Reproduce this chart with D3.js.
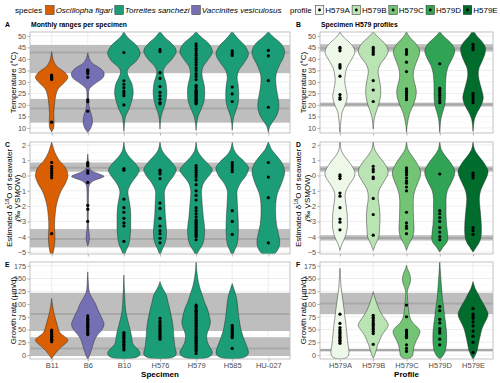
<!DOCTYPE html>
<html>
<head>
<meta charset="utf-8">
<script src="https://cdn.jsdelivr.net/npm/d3@7"></script>
<style>
  body { margin: 0; background: #fff; }
  text { font-family: "Liberation Sans", Arial, sans-serif; }
</style>
</head>
<body>
<div id="chart"></div>
<script>
const specimens = ["B11", "B6", "B10", "H576", "H579", "H585", "HU-027"];
const specimenColors = ["#d95f02", "#7570b3", "#1b9e77", "#1b9e77", "#1b9e77", "#1b9e77", "#1b9e77"];
const profiles = ["H579A", "H579B", "H579C", "H579D", "H579E"];
const profileColors = ["#edf8e9", "#bae4b3", "#74c476", "#31a354", "#006d2c"];
const speciesNames = ["Oscillopha figari", "Torreites sanchezi", "Vaccinites vesiculosus"];
const speciesColors = ["#d95f02", "#1b9e77", "#7570b3"];

const tempTicks = [10, 15, 20, 25, 30, 35, 40, 45, 50];
const d18oTicks = [-5, -4, -3, -2, -1, 0, 1, 2];
const growthTicks = [0, 25, 50, 75, 100, 125, 150, 175];

// dots: temperature per specimen
const tempSpecimenPts = [
  [33, 32.6, 32.2, 31.8, 31.4, 31, 12.5],
  [35.2, 34.8, 34.3, 33.5, 32, 22.2, 21.4, 17.3],
  [42.8, 30.5, 29, 27.5, 26, 25, 24, 20],
  [44, 43.2, 34, 31.5, 28, 25.5, 24, 22.5, 21, 20.5],
  [46.5, 45.6, 44.5, 43.6, 42.4, 41.5, 40.4, 39.6, 38.5, 37.4, 36.1, 35, 33.6, 32.4, 31, 28.5, 27.6, 26.6, 26, 25.4, 25, 24.4, 24, 23.4, 23, 22.5, 22, 21.4, 21, 20.5],
  [43.5, 42.5, 41.5, 27.8, 24.8, 21.5],
  [43.7, 41.3, 30.6, 19]
];
// violin outlines: [value, relative half width]
const tempSpecimenViolins = [
  [[8.3,0],[10,0.12],[12.5,0.15],[16,0.13],[20,0.17],[24,0.25],[27,0.4],[29.5,0.75],[32,1.0],[34.5,0.75],[36.5,0.35],[39,0.12],[41,0.05],[43.2,0]],
  [[8,0],[9.5,0.15],[12,0.28],[15,0.25],[18,0.12],[21,0.06],[24,0.05],[27,0.1],[29.5,0.5],[32,0.95],[34,1.0],[36,0.75],[38,0.3],[40,0.1],[42.6,0]],
  [[8.5,0],[12,0.04],[15,0.1],[18,0.3],[21,0.45],[25,0.57],[29,0.5],[32,0.3],[34.5,0.2],[36.5,0.35],[39,0.75],[42.5,1.0],[46,0.75],[48.5,0.35],[50.5,0.1],[52,0]],
  [[9.5,0],[13,0.03],[16,0.1],[19,0.25],[22.5,0.38],[26,0.42],[30,0.35],[33,0.22],[35,0.2],[37,0.35],[40,0.75],[43.5,1.0],[46.5,0.75],[49,0.35],[51,0.1],[52.5,0]],
  [[9,0],[12,0.04],[15,0.12],[18,0.3],[21.5,0.48],[25,0.53],[28.5,0.5],[31.5,0.4],[34,0.35],[36.5,0.42],[39.5,0.72],[43,1.0],[46.5,0.8],[49,0.4],[51,0.1],[52.5,0]],
  [[9,0],[12,0.03],[15,0.1],[18,0.25],[21,0.37],[25,0.4],[29,0.36],[32,0.3],[35,0.4],[38,0.7],[42,1.0],[45.5,0.8],[48.5,0.4],[51,0.1],[52.5,0]],
  [[8,0],[10.5,0.08],[13,0.3],[16,0.55],[19.5,0.65],[23,0.6],[27,0.5],[31,0.45],[34,0.5],[37.5,0.7],[41,0.95],[43.5,1.0],[46.5,0.8],[49,0.4],[51,0.1],[52.5,0]]
];
// [low, high, mean] of the grey reference ranges
const tempSpecimenBands = [[33.8, 46.1, 42.8], [12.3, 22.6, 18.5]];

const tempProfilePts = [
  [45, 44.5, 43.5, 37.5, 36.7, 36, 32.5, 24.5, 23.2, 22.5],
  [45, 44.3, 43.5, 42.8, 42, 30.6, 26.5, 21.5],
  [44, 43, 42, 38.6, 34.5, 27, 26, 25, 24, 23, 22.3],
  [37.9, 27.3, 26.3, 25.2, 24.2, 23.2, 22, 21],
  [46.3, 45, 44, 25, 24, 23, 22, 21]
];
const tempProfileViolins = [
  [[8,0],[11,0.03],[14,0.08],[17,0.15],[20,0.35],[23.5,0.48],[27,0.4],[30,0.32],[33,0.35],[36,0.45],[39,0.7],[43,1.0],[46,0.8],[48.5,0.4],[50.5,0.1],[52,0]],
  [[9.5,0],[12,0.03],[15,0.1],[18,0.25],[21.5,0.42],[25,0.5],[28.5,0.48],[32,0.38],[35,0.33],[38,0.5],[41,0.85],[43.5,1.0],[46.5,0.8],[49,0.4],[51,0.1],[52.5,0]],
  [[8,0],[11,0.04],[14,0.12],[17,0.25],[20,0.45],[23.5,0.62],[26.5,0.65],[30,0.52],[33,0.45],[36,0.52],[39.5,0.72],[43,0.88],[46,0.7],[48.5,0.35],[50.5,0.1],[52,0]],
  [[8,0],[11,0.03],[14,0.08],[17,0.2],[20,0.33],[23.5,0.38],[27,0.38],[31,0.4],[34,0.45],[37,0.58],[40,0.82],[43.5,1.0],[46.5,0.8],[49,0.4],[51,0.1],[52.5,0]],
  [[8.5,0],[11,0.03],[14,0.1],[17,0.3],[20,0.55],[23,0.68],[26,0.6],[29.5,0.45],[33,0.35],[36,0.4],[39,0.6],[42.5,0.8],[45,0.82],[47.5,0.6],[50,0.25],[52.5,0]]
];
const tempProfileBands = [[43.2, 46.4, 44.6], [19.3, 21, 20.2]];

const d18oSpecimenPts = [
  [0.85, 0.6, 0.45, 0.3, 0.15, 0, -0.15, -3.8],
  [0.85, 0.75, 0.65, 0.3, 0.15, -0.45, -1.95, -2.2, -3.0],
  [0.45, 0.35, -1.55, -2.1, -2.4, -2.8, -3.1, -3.3, -4.3],
  [0.35, 0.25, 0.1, -0.2, -1.8, -2.15, -2.8, -3.3, -3.6, -3.8, -4.1, -4.4],
  [0.65, 0.5, 0.35, 0.2, 0.05, -0.1, -0.3, -0.6, -1.0, -1.3, -1.6, -2.1, -2.3, -2.5, -2.7, -2.9, -3.0, -3.1, -3.2, -3.3, -3.4, -3.5, -3.6, -3.7, -3.8, -3.9, -4.0, -4.2],
  [0.85, 0.7, 0.55, 0.4, 0.25, -2.3, -3.0, -3.85],
  [0.85, -0.1, -1.45, -4.4]
];
const d18oSpecimenViolins = [
  [[-5.3,0],[-5,0.1],[-4.5,0.18],[-4,0.2],[-3.5,0.18],[-3,0.18],[-2.5,0.22],[-2,0.28],[-1.5,0.4],[-1,0.58],[-0.5,0.85],[0,1.0],[0.5,0.85],[1,0.46],[1.5,0.2],[2.2,0]],
  [[-4.6,0],[-4.3,0.08],[-4,0.1],[-3.6,0.06],[-3,0.03],[-2,0.04],[-1,0.05],[-0.6,0.1],[-0.35,0.35],[-0.15,0.85],[-0.05,1.0],[0.1,0.7],[0.3,0.25],[0.5,0.08],[0.8,0.05],[1.4,0]],
  [[-5.3,0],[-5,0.1],[-4.5,0.3],[-4,0.38],[-3.5,0.42],[-3,0.42],[-2.5,0.42],[-2,0.38],[-1.5,0.3],[-1,0.25],[-0.5,0.45],[0,0.8],[0.35,0.95],[0.8,0.7],[1.2,0.35],[1.6,0.1],[2.2,0]],
  [[-5.2,0],[-4.8,0.15],[-4.3,0.35],[-3.7,0.4],[-3,0.36],[-2.5,0.32],[-2,0.3],[-1.5,0.28],[-1,0.28],[-0.5,0.5],[0,0.85],[0.4,1.0],[0.9,0.7],[1.3,0.35],[1.7,0.1],[2.2,0]],
  [[-5.3,0],[-5,0.12],[-4.5,0.4],[-4,0.5],[-3.4,0.52],[-2.8,0.45],[-2.2,0.4],[-1.5,0.35],[-1,0.33],[-0.5,0.45],[0,0.8],[0.35,1.0],[0.8,0.7],[1.2,0.35],[1.6,0.1],[2.2,0]],
  [[-5.3,0],[-5,0.1],[-4.5,0.3],[-4,0.36],[-3.5,0.38],[-3,0.37],[-2.5,0.35],[-2,0.32],[-1.5,0.3],[-1,0.3],[-0.5,0.5],[0,0.85],[0.5,1.0],[0.9,0.75],[1.3,0.35],[1.7,0.1],[2.2,0]],
  [[-5.4,0],[-5.1,0.4],[-4.7,0.65],[-4.3,0.7],[-3.8,0.62],[-3.2,0.5],[-2.5,0.45],[-1.8,0.46],[-1.2,0.55],[-0.6,0.78],[0,0.97],[0.3,1.0],[0.8,0.85],[1.3,0.5],[1.7,0.2],[2.2,0]]
];
const d18oSpecimenBands = [[0.25, 0.85, 0.5], [-4.7, -3.5, -4.15]];

const d18oProfilePts = [
  [0.05, -0.05, -0.2, -1.15, -1.35, -2.1, -2.85, -3.05, -3.55],
  [0.6, 0.4, 0.25, -0.1, -0.2, -1.5, -2.55, -3.9],
  [0.5, 0.35, 0.2, 0.05, -0.15, -0.35, -0.5, -0.75, -1.0, -2.4, -3.1, -3.3, -3.45, -3.8],
  [0.1, -2.3, -2.5, -2.75, -3.0, -3.4, -3.7, -4.0, -4.2],
  [0.15, 0, -0.15, -3.4, -3.6, -3.85]
];
const d18oProfileViolins = [
  [[-4.9,0],[-4.5,0.12],[-4,0.35],[-3.5,0.48],[-3,0.5],[-2.5,0.48],[-2,0.42],[-1.5,0.35],[-1.1,0.37],[-0.6,0.62],[-0.1,0.95],[0.2,1.0],[0.7,0.75],[1.2,0.35],[1.6,0.1],[2.2,0]],
  [[-4.9,0],[-4.5,0.15],[-4,0.38],[-3.5,0.42],[-3,0.45],[-2.5,0.45],[-2,0.4],[-1.5,0.33],[-1,0.38],[-0.5,0.65],[0,0.95],[0.3,1.0],[0.8,0.75],[1.3,0.35],[1.7,0.1],[2.2,0]],
  [[-4.9,0],[-4.5,0.15],[-4,0.42],[-3.5,0.5],[-3,0.48],[-2.5,0.46],[-2,0.45],[-1.5,0.46],[-1,0.55],[-0.5,0.75],[0,0.93],[0.3,0.93],[0.8,0.7],[1.3,0.35],[1.7,0.1],[2.2,0]],
  [[-5,0],[-4.7,0.2],[-4.3,0.5],[-3.8,0.52],[-3.2,0.45],[-2.6,0.42],[-2,0.42],[-1.5,0.42],[-1,0.5],[-0.5,0.75],[0,0.97],[0.3,1.0],[0.8,0.75],[1.3,0.35],[1.7,0.1],[2.2,0]],
  [[-5,0],[-4.7,0.2],[-4.3,0.45],[-3.8,0.55],[-3.2,0.55],[-2.5,0.5],[-2,0.45],[-1.5,0.42],[-1,0.5],[-0.5,0.72],[0,0.95],[0.3,1.0],[0.8,0.75],[1.3,0.35],[1.7,0.1],[2.2,0]]
];
const d18oProfileBands = [[0.25, 0.6, 0.42], [-4.25, -3.9, -4.08]];

const growthSpecimenPts = [
  [49, 46, 43, 40, 37, 34, 31, 29, 26],
  [77, 73, 70, 67, 64, 61, 58, 56, 54, 51, 48, 45, 42, 40],
  [44, 41, 38, 35, 32, 28, 25, 21, 18, 14, 10],
  [72, 66, 62, 58, 55, 52, 49, 46, 43, 40, 37, 34, 31],
  [98, 95, 92, 88, 86, 83, 80, 77, 74, 71, 68, 65, 62, 59, 56, 53, 50, 47, 44, 41, 38, 35, 32, 29, 26, 23, 20, 17, 14, 11, 8, 3],
  [58, 55, 52, 49, 46, 43, 40, 37, 34, 13],
  []
];
const growthSpecimenViolins = [
  [[-8,0],[0,0.15],[8,0.35],[16,0.6],[24,0.9],[30,1.0],[36,0.8],[42,0.55],[50,0.42],[58,0.35],[66,0.28],[75,0.2],[85,0.12],[95,0.07],[103,0.03],[111,0]],
  [[-9,0],[0,0.12],[10,0.22],[20,0.32],[30,0.42],[40,0.62],[50,0.88],[60,1.0],[70,0.9],[80,0.75],[90,0.6],[100,0.48],[110,0.3],[120,0.13],[130,0.06],[145,0.03],[163,0]],
  [[-8,0],[-6,0.6],[-2,0.92],[4,1.0],[10,0.9],[16,0.7],[22,0.55],[30,0.5],[40,0.45],[50,0.38],[60,0.3],[75,0.18],[90,0.1],[110,0.06],[130,0.03],[157,0]],
  [[-8,0],[-5,0.75],[0,0.98],[6,1.0],[15,0.92],[25,0.88],[35,0.85],[50,0.82],[62,0.78],[75,0.7],[90,0.6],[105,0.48],[118,0.38],[130,0.18],[138,0.06],[144,0]],
  [[-8,0],[-5,0.7],[0,0.95],[6,1.0],[15,0.85],[25,0.7],[35,0.65],[45,0.7],[55,0.82],[65,0.88],[75,0.82],[90,0.7],[105,0.5],[120,0.35],[135,0.2],[150,0.1],[165,0.04],[183,0]],
  [[-8,0],[-5,0.7],[0,0.95],[6,1.0],[15,0.92],[25,0.8],[35,0.68],[45,0.58],[55,0.5],[65,0.45],[75,0.4],[90,0.35],[105,0.3],[118,0.22],[130,0.1],[140,0]],
  null
];
const growthSpecimenBands = [[47, 122, 80.5], [-2, 35, 13]];

const growthProfilePts = [
  [80, 62, 54, 50, 47, 44, 41, 38, 35, 32, 29, 26, 23],
  [78, 74, 71, 67, 63, 60, 57, 53, 50, 46, 42, 21],
  [98, 75, 49, 46, 43, 40, 37, 34, 20, 13, 7],
  [95, 87, 70, 63, 52, 47, 43, 31, 20],
  [91, 80, 76, 72, 65, 57, 47, 37, 25, 5]
];
const growthProfileViolins = [
  [[-8,0],[-5,0.45],[0,0.58],[8,0.6],[18,0.55],[30,0.5],[45,0.45],[60,0.4],[75,0.33],[90,0.27],[105,0.2],[120,0.13],[135,0.07],[150,0.04],[170,0]],
  [[-6,0],[0,0.1],[10,0.2],[20,0.3],[30,0.45],[40,0.6],[50,0.85],[58,1.0],[66,0.9],[76,0.65],[86,0.45],[96,0.3],[106,0.18],[116,0.07],[124,0]],
  [[-8,0],[-5,0.3],[0,0.42],[8,0.45],[18,0.52],[28,0.65],[38,0.82],[46,0.9],[54,0.75],[62,0.45],[72,0.25],[85,0.15],[100,0.1],[115,0.06],[122,0.05],[132,0.12],[142,0.25],[150,0.27],[160,0.2],[168,0.08],[176,0]],
  [[-8,0],[-2,0.2],[5,0.33],[15,0.42],[30,0.46],[45,0.45],[60,0.4],[75,0.33],[90,0.27],[105,0.2],[120,0.15],[140,0.1],[160,0.05],[186,0]],
  [[-8,0],[0,0.15],[10,0.28],[20,0.35],[30,0.42],[40,0.5],[50,0.58],[60,0.72],[70,0.9],[80,1.0],[90,0.88],[100,0.7],[110,0.5],[120,0.33],[130,0.15],[144,0]]
];
const growthProfileBands = [[80, 122, 101], [7, 12, 9.8]];

const WIDTH = 500;
const HEIGHT = 383;
const COLS = [{ LEFT: 30, RIGHT: 290 }, { LEFT: 320, RIGHT: 493 }];
const ROWS = [{ TOP: 32, BOTTOM: 133 }, { TOP: 142, BOTTOM: 254 }, { TOP: 262, BOTTOM: 359 }];

const svg = d3.select('#chart')
              .append('svg')
              .attr('width', WIDTH)
              .attr('height', HEIGHT)
              .style('display', 'block');

const rowDefs = [
  { domain: [7.8, 51.7], ticks: tempTicks, step: 5 },
  { domain: [-5.13, 2.19], ticks: d18oTicks, step: 1 },
  { domain: [-7.8, 182.4], ticks: growthTicks, step: 25 }
];

const panels = [
  { tag: 'A', row: 0, col: 0, cats: specimens, colors: specimenColors, pts: tempSpecimenPts, violins: tempSpecimenViolins, bands: tempSpecimenBands, title: 'Monthly ranges per specimen' },
  { tag: 'B', row: 0, col: 1, cats: profiles, colors: profileColors, pts: tempProfilePts, violins: tempProfileViolins, bands: tempProfileBands, title: 'Specimen H579 profiles' },
  { tag: 'C', row: 1, col: 0, cats: specimens, colors: specimenColors, pts: d18oSpecimenPts, violins: d18oSpecimenViolins, bands: d18oSpecimenBands },
  { tag: 'D', row: 1, col: 1, cats: profiles, colors: profileColors, pts: d18oProfilePts, violins: d18oProfileViolins, bands: d18oProfileBands },
  { tag: 'E', row: 2, col: 0, cats: specimens, colors: specimenColors, pts: growthSpecimenPts, violins: growthSpecimenViolins, bands: growthSpecimenBands, xTitle: 'Specimen' },
  { tag: 'F', row: 2, col: 1, cats: profiles, colors: profileColors, pts: growthProfilePts, violins: growthProfileViolins, bands: growthProfileBands, xTitle: 'Profile' }
];

panels.forEach((p, i) => {
  const c = COLS[p.col];
  const r = ROWS[p.row];
  const def = rowDefs[p.row];

  const x = d3.scalePoint()
              .domain(p.cats)
              .range([c.LEFT, c.RIGHT])
              .padding(0.6);
  const y = d3.scaleLinear()
              .domain(def.domain)
              .range([r.BOTTOM, r.TOP]);
  const hw = x.step() * 0.45;

  const g = svg.append('g');
  g.append('clipPath')
     .attr('id', 'clip' + i)
     .append('rect')
     .attr('x', c.LEFT).attr('y', r.TOP)
     .attr('width', c.RIGHT - c.LEFT).attr('height', r.BOTTOM - r.TOP);

  // minor + major grid
  const minor = def.ticks.slice(0, -1).map(t => t + def.step / 2)
                  .concat([def.ticks[0] - def.step / 2]);
  g.selectAll('.minor')
     .data(minor.filter(v => v > def.domain[0] && v < def.domain[1]))
     .enter().append('line')
     .attr('x1', c.LEFT).attr('x2', c.RIGHT)
     .attr('y1', d => y(d)).attr('y2', d => y(d))
     .attr('stroke', '#efefef').attr('stroke-width', 0.4);
  g.selectAll('.major')
     .data(def.ticks)
     .enter().append('line')
     .attr('x1', c.LEFT).attr('x2', c.RIGHT)
     .attr('y1', d => y(d)).attr('y2', d => y(d))
     .attr('stroke', '#e2e2e2').attr('stroke-width', 0.6);
  g.selectAll('.vgrid')
     .data(p.cats)
     .enter().append('line')
     .attr('x1', d => x(d)).attr('x2', d => x(d))
     .attr('y1', r.TOP).attr('y2', r.BOTTOM)
     .attr('stroke', '#e2e2e2').attr('stroke-width', 0.6);

  // grey reference ranges
  const bandG = g.append('g').attr('clip-path', `url(#clip${i})`);
  bandG.selectAll('rect')
         .data(p.bands)
         .enter().append('rect')
         .attr('x', c.LEFT).attr('width', c.RIGHT - c.LEFT)
         .attr('y', d => y(d[1]))
         .attr('height', d => y(d[0]) - y(d[1]))
         .attr('fill', '#bebebe');
  bandG.selectAll('line')
         .data(p.bands)
         .enter().append('line')
         .attr('x1', c.LEFT).attr('x2', c.RIGHT)
         .attr('y1', d => y(d[2])).attr('y2', d => y(d[2]))
         .attr('stroke', '#a8a8a8').attr('stroke-width', 2);

  // violins
  const vg = g.append('g').attr('clip-path', `url(#clip${i})`);
  p.cats.forEach((cat, k) => {
    const prof = p.violins[k];
    if (!prof) return;
    const cx = x(cat);
    const area = d3.area()
                   .curve(d3.curveCatmullRom.alpha(0.5))
                   .y(d => y(d[0]))
                   .x0(d => cx - d[1] * hw)
                   .x1(d => cx + d[1] * hw);
    vg.append('path')
        .attr('d', area(prof))
        .attr('fill', p.colors[k])
        .attr('stroke', '#222')
        .attr('stroke-width', 0.45);
  });

  // points
  p.cats.forEach((cat, k) => {
    vg.selectAll(null)
        .data(p.pts[k])
        .enter().append('circle')
        .attr('cx', x(cat))
        .attr('cy', d => y(d))
        .attr('r', 1.6)
        .attr('fill', '#000');
  });

  // border
  g.append('rect')
     .attr('x', c.LEFT).attr('y', r.TOP)
     .attr('width', c.RIGHT - c.LEFT).attr('height', r.BOTTOM - r.TOP)
     .attr('fill', 'none').attr('stroke', '#b3b3b3').attr('stroke-width', 0.8);

  // y axis
  const yAxis = g.append('g')
                   .attr('transform', `translate(${c.LEFT},0)`)
                   .call(d3.axisLeft(y).tickValues(def.ticks).tickSize(2.5).tickPadding(1.5)
                           .tickFormat(d => d < 0 ? '\u2212' + Math.abs(d) : d));
  yAxis.select('.domain').remove();
  yAxis.selectAll('line').attr('stroke', '#b3b3b3');
  yAxis.selectAll('text').attr('fill', '#4d4d4d').style('font-size', '7.2px');

  // x ticks
  const xAxis = g.append('g')
                   .attr('transform', `translate(0,${r.BOTTOM})`)
                   .call(d3.axisBottom(x).tickSize(2.5).tickPadding(1.5));
  xAxis.select('.domain').remove();
  xAxis.selectAll('line').attr('stroke', '#b3b3b3');
  if (p.row === 2) {
    xAxis.selectAll('text').attr('fill', '#4d4d4d').style('font-size', '7.5px');
  } else {
    xAxis.selectAll('text').remove();
  }

  // y axis title
  const tx = p.col === 0 ? 13.5 : 303;
  const ty = (r.TOP + r.BOTTOM) / 2;
  if (p.row === 0) {
    g.append('text')
       .attr('transform', `translate(${tx},${ty}) rotate(-90)`)
       .attr('text-anchor', 'middle').attr('dy', '0.35em')
       .style('font-size', '8px').attr('fill', '#000')
       .text('Temperature (°C)');
  } else if (p.row === 1) {
    const t = g.append('text')
                 .attr('transform', `translate(${tx - 4.5},${ty}) rotate(-90)`)
                 .attr('text-anchor', 'middle').attr('dy', '0.35em')
                 .style('font-size', '8px');
    t.append('tspan').text('Estimated δ');
    t.append('tspan').attr('baseline-shift', 'super').style('font-size', '5.5px').text('18');
    t.append('tspan').text('O of seawater');
    g.append('text')
       .attr('transform', `translate(${tx + 4},${ty}) rotate(-90)`)
       .attr('text-anchor', 'middle').attr('dy', '0.35em')
       .style('font-size', '8px')
       .text('(‰ VSMOW)');
  } else {
    g.append('text')
       .attr('transform', `translate(${tx},${ty}) rotate(-90)`)
       .attr('text-anchor', 'middle').attr('dy', '0.35em')
       .style('font-size', '8px')
       .text('Growth rate (µm/d)');
  }

  if (p.xTitle) {
    g.append('text')
       .attr('x', (c.LEFT + c.RIGHT) / 2).attr('y', 377)
       .attr('text-anchor', 'middle')
       .style('font-size', '8px').style('font-weight', 'bold')
       .text(p.xTitle);
  }

  // tags and titles
  const tagX = p.col === 0 ? 5 : 296;
  const tagY = p.row === 0 ? 27 : r.TOP + 5;
  g.append('text')
     .attr('x', tagX).attr('y', tagY)
     .style('font-size', '6.8px').style('font-weight', 'bold')
     .text(p.tag);
  if (p.title) {
    g.append('text')
       .attr('x', c.LEFT + 1).attr('y', 27)
       .style('font-size', '6.8px').style('font-weight', 'bold')
       .text(p.title);
  }
});

// legend: keys flow after the measured label widths
const legend = svg.append('g').style('font-size', '8px');
function legendRow(label, x0, names, colors, withDot, italic) {
  const lt = legend.append('text').attr('x', x0).attr('y', 13).text(label);
  let xp = x0 + lt.node().getComputedTextLength() + 3.5;
  names.forEach((n, k) => {
    legend.append('rect')
            .attr('x', xp).attr('y', 5.5)
            .attr('width', 8.5).attr('height', 9)
            .attr('fill', colors[k]).attr('stroke', '#222').attr('stroke-width', 0.5);
    if (withDot) {
      legend.append('circle').attr('cx', xp + 4.25).attr('cy', 10).attr('r', 1.4).attr('fill', '#000');
    }
    const t = legend.append('text')
                      .attr('x', xp + 10).attr('y', 12.8)
                      .style('font-style', italic ? 'italic' : 'normal')
                      .text(n);
    xp += 10 + t.node().getComputedTextLength() + 2.3;
  });
}
legendRow('species', 15, speciesNames, speciesColors, false, true);
legendRow('profile', 290, profiles, profileColors, true, false);
</script>
</body>
</html>
